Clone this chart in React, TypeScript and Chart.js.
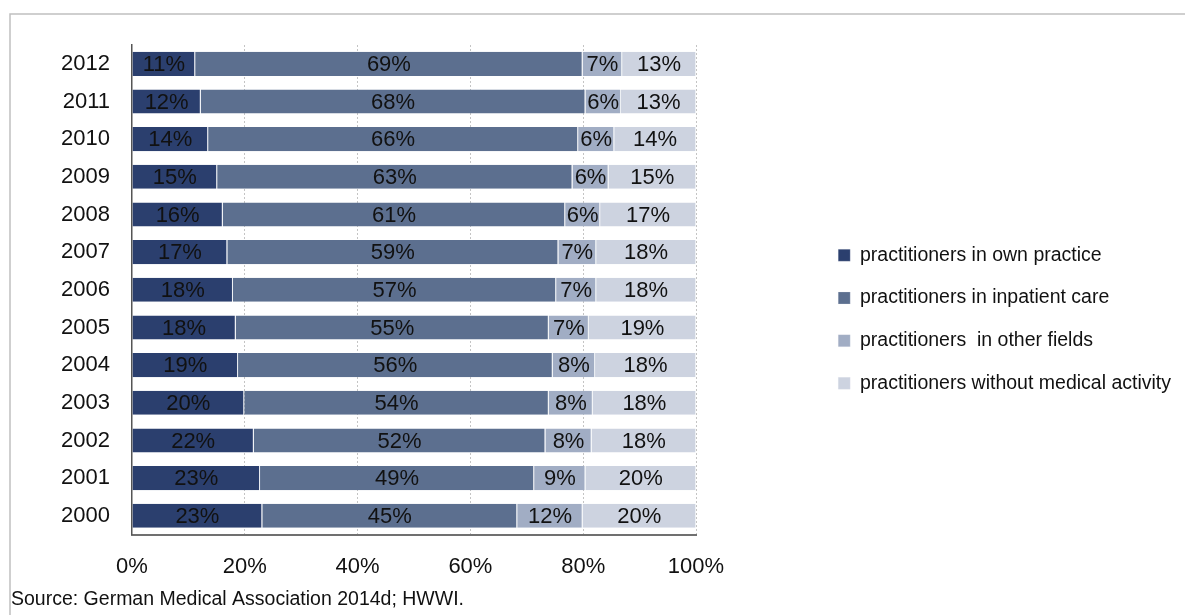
import React, { useEffect, useRef } from "react";
import { Chart, registerables } from "chart.js";

Chart.register(...registerables);

const years = ["2012", "2011", "2010", "2009", "2008", "2007", "2006", "2005", "2004", "2003", "2002", "2001", "2000"];
const ownPractice = [11.2, 12.2, 13.5, 15.1, 16.1, 16.9, 17.9, 18.4, 18.8, 19.9, 21.6, 22.7, 23.1];
const inpatientCare = [68.7, 68.2, 65.6, 63.0, 60.7, 58.7, 57.3, 55.5, 55.8, 54.0, 51.7, 48.6, 45.2];
const otherFields = [7.0, 6.3, 6.4, 6.4, 6.2, 6.7, 7.1, 7.1, 7.5, 7.8, 8.2, 9.1, 11.6];
const withoutActivity = [13.1, 13.3, 14.5, 15.5, 17.0, 17.7, 17.7, 19.0, 17.9, 18.3, 18.5, 19.6, 20.1];

const ownLabels = [11, 12, 14, 15, 16, 17, 18, 18, 19, 20, 22, 23, 23];
const inpatientLabels = [69, 68, 66, 63, 61, 59, 57, 55, 56, 54, 52, 49, 45];
const otherLabels = [7, 6, 6, 6, 6, 7, 7, 7, 8, 8, 8, 9, 12];
const withoutLabels = [13, 13, 14, 15, 17, 18, 18, 19, 18, 18, 18, 20, 20];

const xTicks = [0, 20, 40, 60, 80, 100];
const seriesNames = [
  "practitioners in own practice",
  "practitioners in inpatient care",
  "practitioners  in other fields",
  "practitioners without medical activity",
];
const sourceNote = "Source: German Medical Association 2014d; HWWI.";

const FONT = "'Liberation Sans', Arial, sans-serif";
const colors = ["#2B3F6E", "#5C6F8F", "#A1ADC4", "#CDD3E0"];

const labelSets = [ownLabels, inpatientLabels, otherLabels, withoutLabels];

const segmentLabels = {
  id: "segmentLabels",
  afterDatasetsDraw(chart: any) {
    const ctx = chart.ctx;
    ctx.save();
    ctx.font = `22px ${FONT}`;
    ctx.fillStyle = "#111111";
    ctx.textAlign = "center";
    ctx.textBaseline = "middle";
    chart.data.datasets.forEach((ds: any, di: number) => {
      const meta = chart.getDatasetMeta(di);
      meta.data.forEach((el: any, i: number) => {
        const cx = (el.x + el.base) / 2;
        ctx.fillText(`${labelSets[di][i]}%`, cx, el.y + 1);
      });
    });
    ctx.restore();
  },
};

const frame = {
  id: "frame",
  beforeDraw(chart: any) {
    const ctx = chart.ctx;
    ctx.save();
    ctx.strokeStyle = "#c0c0c0";
    ctx.lineWidth = 1.5;
    ctx.beginPath();
    ctx.moveTo(10, chart.height);
    ctx.lineTo(10, 14);
    ctx.lineTo(chart.width, 14);
    ctx.stroke();
    ctx.restore();
  },
};

export default function App() {
  const ref = useRef<HTMLCanvasElement | null>(null);
  useEffect(() => {
    if (!ref.current) return;
    const values = [ownPractice, inpatientCare, otherFields, withoutActivity];
    const chart = new Chart(ref.current, {
      type: "bar",
      data: {
        labels: years,
        datasets: values.map((v, i) => ({
          label: seriesNames[i],
          data: v,
          backgroundColor: colors[i],
          borderColor: "rgba(235,238,243,0.9)",
          borderWidth: { left: 0, right: 1, top: 0, bottom: 0 },
          borderSkipped: "start",
          barPercentage: 0.64,
          categoryPercentage: 1,
        })),
      },
      options: {
        indexAxis: "y",
        animation: false,
        responsive: false,
        maintainAspectRatio: false,
        layout: { padding: { left: 11, top: 27.6, right: 4, bottom: 4 } },
        scales: {
          x: {
            stacked: true,
            min: 0,
            max: 100,
            afterBuildTicks: (s: any) => {
              s.ticks = xTicks.map((v) => ({ value: v }));
            },
            afterFit: (s: any) => {
              s.height = 44;
            },
            ticks: {
              callback: (v: any) => `${v}%`,
              font: { family: FONT, size: 22 },
              color: "#111111",
              padding: 19,
              maxRotation: 0,
            },
            grid: {
              drawTicks: false,
              color: (c: any) => (c.tick && c.tick.value === 0 ? "rgba(0,0,0,0)" : "#c4c4c4"),
              lineWidth: 1,
            },
            border: { display: true, color: "#707070", width: 2, dash: [2, 2] },
          },
          y: {
            stacked: true,
            afterFit: (s: any) => {
              s.width = 121;
            },
            ticks: {
              font: { family: FONT, size: 22 },
              color: "#111111",
              padding: 22,
            },
            grid: { display: false, drawTicks: false },
            border: { display: true, color: "#555555", width: 1.5 },
          },
          padRight: {
            type: "linear",
            position: "right",
            display: true,
            afterFit: (s: any) => {
              const lw = s.chart.legend && s.chart.legend.width ? s.chart.legend.width : 366;
              s.width = 1185 - 4 - 696 - lw;
            },
            ticks: { display: false },
            grid: { display: false, drawTicks: false },
            border: { display: false },
          },
          padTop: {
            type: "linear",
            position: "top",
            display: true,
            afterFit: (s: any) => {
              s.height = 17.4;
            },
            ticks: { display: false },
            grid: { display: false, drawTicks: false },
            border: { display: false },
          },
        },
        plugins: {
          legend: {
            position: "right",
            align: "center",
            maxWidth: 420,
            labels: {
              boxWidth: 12,
              boxHeight: 12,
              padding: 23.2,
              color: "#111111",
              font: { family: FONT, size: 19.5 },
            },
          },
          title: {
            display: true,
            text: sourceNote,
            position: "bottom",
            align: "start",
            color: "#111111",
            font: { family: FONT, size: 19.5, weight: "normal" },
            padding: { top: 9, bottom: 0 },
          },
          tooltip: { enabled: false },
        },
      },
      plugins: [frame, segmentLabels],
    } as any);
    return () => chart.destroy();
  }, []);
  return (
    <div style={{ position: "absolute", left: 0, top: 0, width: 1185, height: 615 }}>
      <canvas ref={ref} width={1185} height={615} style={{ width: 1185, height: 615 }} />
    </div>
  );
}
